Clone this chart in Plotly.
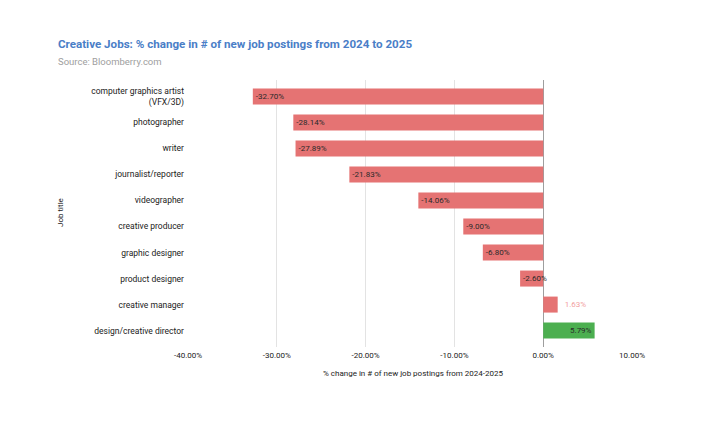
import plotly.graph_objects as go

categories = ["computer graphics artist<br>(VFX/3D)", "photographer", "writer",
              "journalist/reporter", "videographer", "creative producer",
              "graphic designer", "product designer", "creative manager",
              "design/creative director"]
values = [-32.70, -28.14, -27.89, -21.83, -14.06, -9.00, -6.80, -2.60, 1.63, 5.79]
tick_vals = [-40, -30, -20, -10, 0, 10]
tick_text = ["-40.00%", "-30.00%", "-20.00%", "-10.00%", "0.00%", "10.00%"]

RED = "#E57373"
GREEN = "#4CAF50"
colors = [GREEN if c == "design/creative director" else RED for c in categories]
labels = [("  " if abs(v) < 2 else "") + f"{v:.2f}%" for v in values]
positions = ["outside" if abs(v) < 2 else "inside" for v in values]
text_colors = ["#F2A0A0" if abs(v) < 2 else "#2A2A2A" for v in values]

# plot area (figure px): x 180..624, y 72..339
L, T, PW, PH = 180, 72, 444, 267
W, H = 702, 421

def px(x):
    return (x - L) / PW

def py(y):
    return 1 - (y - T) / PH

fig = go.Figure(go.Bar(
    y=categories, x=values, orientation="h",
    marker=dict(color=colors, line=dict(width=0)),
    text=labels, textposition=positions, insidetextanchor="end",
    textfont=dict(family="Roboto", size=8, color=text_colors),
    outsidetextfont=dict(family="Roboto", size=8, color=text_colors),
    insidetextfont=dict(family="Roboto", size=8, color=text_colors),
    cliponaxis=False, constraintext="none",
))

fig.update_layout(
    width=W, height=H,
    margin=dict(l=L, r=W - L - PW, t=T, b=H - T - PH),
    paper_bgcolor="white", plot_bgcolor="white",
    font=dict(family="Roboto", color="#222222"),
    bargap=0.385,
    showlegend=False,
    xaxis=dict(range=[-40, 10], tickvals=tick_vals, ticktext=tick_text,
               tickfont=dict(size=8, color="#222222"),
               showgrid=True, gridcolor="#E3E3E3", gridwidth=1,
               zeroline=True, zerolinecolor="#9E9E9E", zerolinewidth=1,
               showline=False, ticks="", ticklabelstandoff=2),
    yaxis=dict(range=[9.63, -0.63], tickfont=dict(size=8.5, color="#222222"),
               showgrid=False, ticks="", ticklabelstandoff=3),
    annotations=[
        dict(text="<b>Creative Jobs: % change in # of new job postings from 2024 to 2025</b>",
             xref="paper", yref="paper", x=px(48), y=py(36),
             xanchor="left", yanchor="middle", showarrow=False,
             font=dict(family="Roboto", size=11.6, color="#4A7EC7")),
        dict(text="Source: Bloomberry.com",
             xref="paper", yref="paper", x=px(48), y=py(53),
             xanchor="left", yanchor="middle", showarrow=False,
             font=dict(family="Roboto", size=9.5, color="#9E9E9E")),
        dict(text="Job title", textangle=-90,
             xref="paper", yref="paper", x=px(52), y=py(205),
             xanchor="center", yanchor="middle", showarrow=False,
             font=dict(family="Roboto", size=8, color="#222222")),
        dict(text="% change in # of new job postings from 2024-2025",
             xref="paper", yref="paper", x=px(405), y=py(365),
             xanchor="center", yanchor="middle", showarrow=False,
             font=dict(family="Roboto", size=8, color="#222222")),
    ],
)

fig.write_html("out.html")
